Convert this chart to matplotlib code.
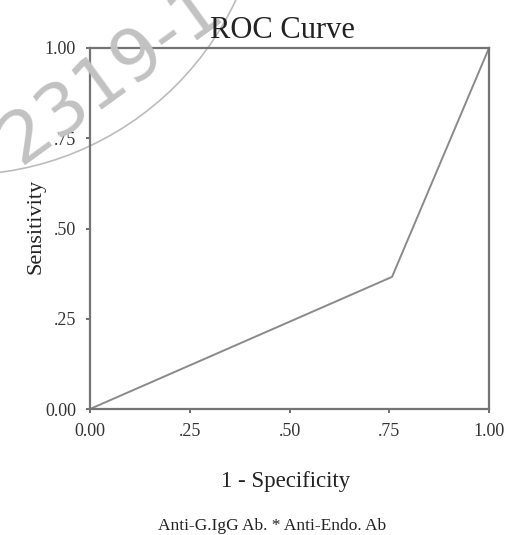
import matplotlib.pyplot as plt
from matplotlib.patches import Ellipse

fpr = [0.0, 0.757, 1.0]
tpr = [0.0, 0.366, 1.0]
ticks = [0.0, 0.25, 0.5, 0.75, 1.0]
tick_labels = ['0.00', '.25', '.50', '.75', '1.00']

plt.rcParams['font.family'] = ['Liberation Serif', 'DejaVu Serif']

W, H = 511, 535
fig = plt.figure(figsize=(W / 100, H / 100), dpi=100)

# faint stamp in the top-left corner
r = 305
fig.add_artist(Ellipse((-40 / W, 1 + 130 / H), 2 * r / W, 2 * r / H,
                       transform=fig.transFigure, fill=False,
                       edgecolor='#bcbcbc', lw=1.2, zorder=0))
fig.text(112 / W, 1 - 74 / H, '2319-1', rotation=36, ha='center', va='center',
         fontsize=52, color='#c2c2c2', family='DejaVu Sans', zorder=0)

ax = fig.add_axes([90 / W, 1 - 409 / H, 399 / W, 361 / H])
ax.patch.set_alpha(0)
ax.plot(fpr, tpr, color='#8a8a8a', lw=1.4, clip_on=False)
ax.set_xlim(0, 1)
ax.set_ylim(0, 1)
ax.set_xticks(ticks)
ax.set_xticklabels(tick_labels)
ax.set_yticks(ticks)
ax.set_yticklabels(tick_labels)
for s in ax.spines.values():
    s.set_color('#747474')
    s.set_linewidth(1.6)
ax.tick_params(direction='out', length=3, width=1.2, color='#555555',
               labelsize=13, labelcolor='#333333', pad=7)

fig.text(282 / W, 1 - 30 / H, 'ROC Curve', ha='center', va='center',
         fontsize=22, color='#222222')
fig.text(286 / W, 1 - 482 / H, '1 - Specificity', ha='center', va='center',
         fontsize=16.5, color='#222222')
fig.text(36 / W, 1 - 226 / H, 'Sensitivity', ha='center', va='center',
         rotation=90, fontsize=16, color='#222222')
fig.text(272 / W, 1 - 526 / H, 'Anti-G.IgG Ab. * Anti-Endo. Ab', ha='center',
         va='center', fontsize=12.5, color='#222222')

fig.savefig('out.png', dpi=100)
